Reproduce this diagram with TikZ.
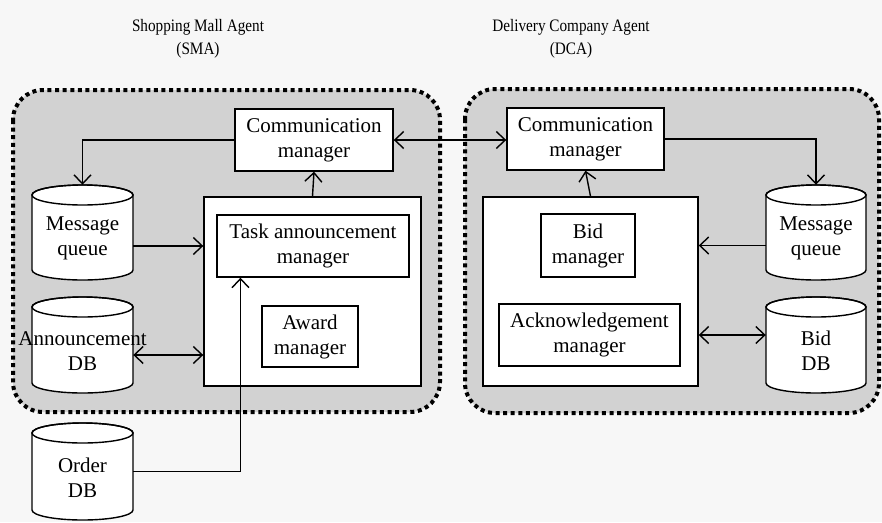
\documentclass[tikz,border=0pt]{standalone}
\usepackage{fontspec}
\setmainfont{Liberation Serif}
\newfontfamily\ttlfont[FakeStretch=0.87]{Liberation Serif}
\usetikzlibrary{arrows.meta,calc}
\newcommand\dbcyl[6]{%
  \pgfmathsetmacro\hw{(#4-#2)/2}%
  \path[cylbody] (#2,#3+10) -- (#2,#5-10)
     arc[start angle=180,end angle=360,x radius=\hw pt,y radius=10pt]
     -- (#4,#3+10)
     arc[start angle=0,end angle=180,x radius=\hw pt,y radius=10pt] -- cycle;
  \draw[cylline] ({(#2+#4)/2},#3+10) ellipse[x radius=\hw pt,y radius=10pt];
  \node[cylnode,minimum width={(#4-#2)*1pt},minimum height={(#5-#3)*1pt}] (#1) at ({(#2+#4)/2},{(#3+#5)/2}) {};
  \node[txt] (#1-t) at ({(#2+#4)/2},{(#3+#5)/2+6}) {#6};
}
\begin{document}
\begin{tikzpicture}[x=1pt,y=-1pt,
  txt/.style={font=\fontsize{21}{25}\selectfont,align=center,inner sep=0pt},
  ttl/.style={font=\ttlfont\fontsize{17.5}{23}\selectfont,align=center,inner sep=0pt},
  box/.style={draw,line width=1.4pt,fill=white,inner sep=0pt,align=center,font=\fontsize{21}{25}\selectfont},
  cylbody/.style={draw,line width=1.4pt,fill=white},
  cylline/.style={draw,line width=1.4pt},
  cylnode/.style={draw=none,inner sep=0pt},
  frame/.style={draw=black,fill=gray!35,line width=4pt,dash pattern=on 4pt off 3.6pt,rounded corners=30pt},
  arr/.style={line width=1.4pt,-{Straight Barb[length=9pt,width=17pt,line width=1.4pt]}},
  darr/.style={line width=1.4pt,{Straight Barb[length=9pt,width=17pt,line width=1.4pt]}-{Straight Barb[length=9pt,width=17pt,line width=1.4pt]}}
]
\useasboundingbox (0,0) rectangle (882,522);
\fill[black!3] (0,0) rectangle (882,522);

% titles
\node[ttl] (tL) at (198,39) {Shopping Mall Agent\\(SMA)};
\node[ttl] (tR) at (571,39) {Delivery Company Agent\\(DCA)};

% frames
\path[frame] (13,90) rectangle (440,412);
\path[frame] (465,89) rectangle (879,413);

% left agent
\node[box,minimum width=158pt,minimum height=62pt] (cmL) at (314,140) {Communication\\manager};
\node[box,minimum width=217pt,minimum height=189pt] (bigL) at (312.5,291.5) {};
\node[box,minimum width=192pt,minimum height=62pt] (tam) at (313,246) {Task announcement\\manager};
\node[box,minimum width=96pt,minimum height=61pt] (award) at (310,336.5) {Award\\manager};
\dbcyl{mqL}{32}{185}{133}{280}{Message\\queue}
\dbcyl{adb}{32}{297}{133}{393}{Announcement\\DB}
\dbcyl{odb}{32}{423}{133}{520}{Order\\DB}

% right agent
\node[box,minimum width=157pt,minimum height=62pt] (cmR) at (585.5,139) {Communication\\manager};
\node[box,minimum width=215pt,minimum height=189pt] (bigR) at (590.5,291.5) {};
\node[box,minimum width=94pt,minimum height=63pt] (bid) at (588,245.5) {Bid\\manager};
\node[box,minimum width=181pt,minimum height=62pt] (ack) at (589.5,335) {Acknowledgement\\manager};
\dbcyl{mqR}{766}{185}{866}{280}{Message\\queue}
\dbcyl{bdb}{766}{297}{866}{393}{Bid\\DB}

% connectors left
\draw[arr] (cmL.west) -| (mqL.north);
\draw[arr] (mqL.east |- tam) -- (bigL.west |- tam);
\coordinate (p1) at ([yshift=-10pt]adb.east);
\draw[darr] (p1) -- (p1 -| bigL.west);
\draw[arr] (bigL.north) -- (cmL.south);
\draw[arr] (odb.east) -| ($(tam.south west)!0.125!(tam.south east)$);

% between agents
\draw[darr] (cmL.east) -- (cmL.east -| cmR.west);

% connectors right
\draw[arr] (cmR.east) -| (mqR.north);
\draw[arr] (mqR.west |- bid) -- (bigR.east |- bid);
\draw[darr] (bigR.east |- ack) -- (bdb.west |- ack);
\draw[arr] (bigR.north) -- (cmR.south);
\end{tikzpicture}
\end{document}
